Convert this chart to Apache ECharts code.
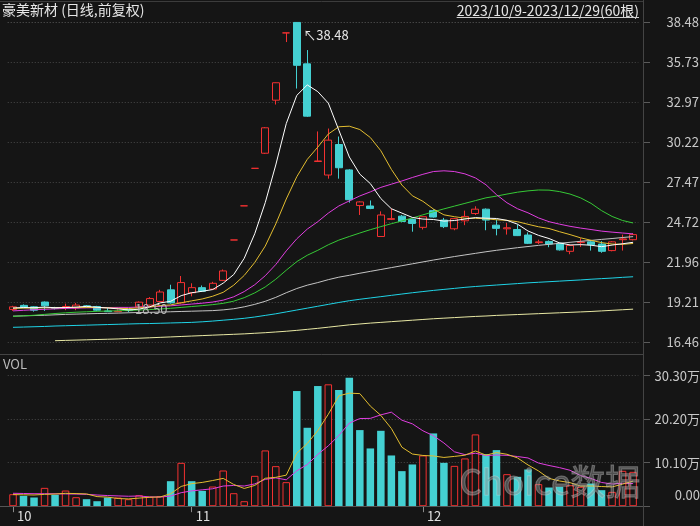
<!DOCTYPE html>
<html><head><meta charset="utf-8">
<script src="https://cdn.jsdelivr.net/npm/echarts/dist/echarts.min.js"></script>
<style>html,body{margin:0;padding:0;background:#151515;}#c{width:700px;height:526px;}</style>
</head><body><div id="c"></div>
<script>
const dates = [
'2023-10-09','2023-10-10','2023-10-11','2023-10-12','2023-10-13','2023-10-16','2023-10-17','2023-10-18','2023-10-19','2023-10-20',
'2023-10-23','2023-10-24','2023-10-25','2023-10-26','2023-10-27','2023-10-30','2023-10-31',
'2023-11-01','2023-11-02','2023-11-03','2023-11-06','2023-11-07','2023-11-08','2023-11-09','2023-11-10',
'2023-11-13','2023-11-14','2023-11-15','2023-11-16','2023-11-17','2023-11-20','2023-11-21','2023-11-22','2023-11-23','2023-11-24',
'2023-11-27','2023-11-28','2023-11-29','2023-11-30',
'2023-12-01','2023-12-04','2023-12-05','2023-12-06','2023-12-07','2023-12-08','2023-12-11','2023-12-12','2023-12-13','2023-12-14','2023-12-15',
'2023-12-18','2023-12-19','2023-12-20','2023-12-21','2023-12-22','2023-12-25','2023-12-26','2023-12-27','2023-12-28','2023-12-29'];

const opens  = [18.70,18.98,18.88,19.21,18.82,18.86,18.80,18.95,18.90,18.60,18.55,18.70,18.88,19.00,19.25,20.05,19.15,19.85,20.20,20.10,
                20.70,23.48,25.83,28.41,29.45,33.10,37.73,38.45,35.60,28.88,27.95,30.05,28.30,25.85,25.82,23.72,24.90,25.12,24.90,24.35,
                25.50,24.85,24.25,24.80,25.30,25.60,24.50,24.25,24.20,23.82,23.30,23.38,23.25,22.70,23.30,23.35,23.20,22.75,23.50,23.50];
const closes = [18.88,18.85,18.65,18.95,18.78,18.90,19.00,18.90,18.65,18.55,18.58,18.62,19.20,19.45,19.90,19.15,20.55,20.20,19.95,20.50,
                21.35,23.48,25.83,28.41,31.20,34.30,37.73,35.50,32.00,28.92,30.35,28.45,26.25,26.10,25.65,25.20,24.95,24.75,24.62,25.08,
                25.06,24.40,24.95,25.10,25.60,24.85,24.28,24.32,23.78,23.25,23.35,23.20,22.80,23.10,23.35,23.15,22.70,23.35,23.55,23.85];
const lows   = [18.60,18.78,18.55,18.60,18.70,18.65,18.65,18.80,18.60,18.53,18.52,18.50,18.85,18.95,19.20,19.10,19.10,19.60,19.90,20.05,
                20.65,23.48,25.83,28.41,29.40,32.80,37.10,33.90,31.95,28.85,27.70,27.70,26.05,25.20,25.60,23.70,24.85,24.70,24.05,24.20,
                25.02,24.30,24.15,24.50,25.20,24.15,23.80,23.85,23.75,23.20,23.20,22.98,22.75,22.50,23.00,22.75,22.60,22.70,22.75,23.45];
const highs  = [18.95,19.05,18.92,19.25,18.88,19.10,19.15,19.00,18.95,18.85,18.70,18.72,19.25,19.55,20.05,20.40,21.00,20.50,20.35,20.60,
                21.45,23.48,25.83,28.41,31.25,34.32,37.73,38.48,36.55,30.95,31.15,30.60,28.35,26.15,26.20,25.45,25.65,25.20,24.95,25.10,
                25.60,25.00,25.00,25.50,25.80,25.65,24.90,24.65,24.55,24.00,23.50,23.45,23.30,23.15,23.60,23.40,23.40,23.40,23.85,23.95];

const ma5   = [18.80,18.83,18.82,18.86,18.82,18.83,18.86,18.91,18.85,18.80,18.74,18.66,18.72,18.88,19.15,19.26,19.65,19.85,19.95,20.07,
               20.51,21.10,22.22,23.91,26.05,28.64,31.49,33.43,34.15,33.69,32.90,31.04,29.19,28.01,27.36,26.33,25.63,25.33,25.03,24.92,
               24.89,24.78,24.82,24.92,25.02,24.98,24.96,24.83,24.57,24.10,23.80,23.58,23.28,23.14,23.16,23.12,23.02,23.13,23.22,23.32];
const ma10  = [18.78,18.79,18.80,18.81,18.82,18.83,18.84,18.84,18.83,18.81,18.78,18.76,18.81,18.86,18.97,19.01,19.16,19.29,19.42,19.61,
               19.88,20.37,21.04,21.93,23.06,24.58,26.30,27.83,29.03,29.87,30.77,31.27,31.31,31.08,30.53,29.62,28.34,27.26,26.52,26.14,
               25.61,25.21,25.08,24.98,24.97,24.94,24.87,24.83,24.74,24.56,24.39,24.27,24.05,23.85,23.63,23.46,23.30,23.20,23.18,23.24];
const ma20  = [18.60,18.64,18.68,18.71,18.74,18.77,18.79,18.81,18.82,18.83,18.84,18.84,18.86,18.88,18.91,18.95,19.01,19.07,19.13,19.21,
               19.34,19.57,19.93,20.40,21.02,21.79,22.73,23.56,24.23,24.74,25.33,25.82,26.17,26.51,26.79,27.10,27.32,27.54,27.78,28.00,
               28.19,28.24,28.19,28.03,27.75,27.28,26.60,26.04,25.63,25.35,25.00,24.74,24.57,24.42,24.30,24.20,24.09,24.02,23.96,23.90];
const ma30  = [18.22,18.26,18.30,18.36,18.42,18.47,18.51,18.54,18.57,18.59,18.61,18.63,18.66,18.69,18.73,18.78,18.84,18.90,18.96,19.03,
               19.12,19.27,19.51,19.84,20.25,20.78,21.40,21.99,22.43,22.77,23.15,23.47,23.72,23.96,24.19,24.40,24.60,24.79,24.99,25.21,
               25.42,25.62,25.81,26.00,26.19,26.38,26.50,26.64,26.77,26.86,26.92,26.91,26.81,26.64,26.38,26.00,25.50,25.10,24.82,24.65];
const ma60  = [18.24,18.26,18.28,18.30,18.33,18.36,18.38,18.40,18.42,18.43,18.45,18.47,18.49,18.50,18.52,18.54,18.56,18.58,18.60,18.62,
               18.67,18.75,18.88,19.05,19.26,19.53,19.85,20.14,20.37,20.55,20.75,20.92,21.05,21.19,21.32,21.45,21.58,21.71,21.84,21.97,
               22.10,22.22,22.34,22.45,22.56,22.67,22.77,22.86,22.95,23.03,23.11,23.18,23.25,23.32,23.39,23.45,23.52,23.58,23.65,23.71];
const ma120 = [17.47,17.49,17.51,17.53,17.56,17.58,17.60,17.62,17.64,17.66,17.68,17.70,17.72,17.73,17.75,17.77,17.79,17.81,17.85,17.90,
               17.96,18.02,18.09,18.18,18.29,18.40,18.53,18.66,18.79,18.92,19.05,19.18,19.30,19.40,19.49,19.58,19.67,19.76,19.85,19.93,
               20.01,20.08,20.15,20.22,20.28,20.33,20.38,20.43,20.48,20.53,20.57,20.61,20.65,20.69,20.73,20.78,20.82,20.86,20.91,20.95];
const ma250 = [null,null,null,null,16.55,16.57,16.59,16.61,16.63,16.65,16.67,16.70,16.72,16.75,16.78,16.81,16.84,16.87,16.90,16.93,
               16.96,16.99,17.02,17.06,17.10,17.15,17.20,17.26,17.33,17.40,17.48,17.56,17.64,17.70,17.76,17.81,17.86,17.91,17.96,18.01,
               18.06,18.10,18.14,18.18,18.22,18.25,18.29,18.32,18.35,18.38,18.41,18.44,18.47,18.50,18.53,18.56,18.60,18.64,18.68,18.72];

// volume in 万
const volumes = [2.79,2.40,2.02,4.26,2.64,3.64,2.09,1.63,1.16,2.02,2.02,1.63,2.56,2.17,2.33,5.81,10.07,5.81,3.56,4.57,
                 8.29,3.02,1.16,7.05,12.95,9.30,5.58,26.74,18.21,27.90,28.30,26.98,29.84,17.67,13.41,17.51,11.78,8.14,9.69,11.78,
                 16.90,10.07,9.37,11.09,16.67,12.09,13.02,7.44,6.82,8.53,5.12,4.34,4.50,4.88,4.50,5.27,3.72,3.33,8.22,7.98];
const volMa5  = [2.70,2.65,2.60,2.75,2.82,2.99,2.93,2.85,2.23,2.11,1.78,1.69,1.88,2.08,2.14,2.90,4.59,5.24,5.52,5.96,
                 6.46,5.05,4.12,4.82,6.49,6.70,7.21,12.32,14.56,17.55,21.35,25.63,26.25,26.14,23.24,21.08,18.04,13.70,12.11,11.78,
                 11.66,11.32,11.56,11.84,12.82,11.86,12.45,12.06,11.21,9.58,8.19,6.45,5.86,5.47,4.67,4.70,4.57,4.47,5.13,5.83];
const volMa10 = [3.00,2.95,2.90,2.90,2.88,2.85,2.82,2.75,2.60,2.47,2.39,2.31,2.37,2.16,2.13,2.34,3.14,3.56,3.80,4.05,
                 4.68,4.82,4.68,5.17,6.23,6.58,6.13,8.22,9.69,12.02,14.02,16.42,19.29,20.35,20.39,21.21,21.83,19.97,19.12,17.51,
                 16.37,14.68,12.63,11.97,12.30,11.76,11.88,11.81,11.53,11.20,10.02,9.45,8.96,8.34,7.12,6.44,5.51,5.16,5.30,5.25];

const priceTicks = ['16.46','19.21','21.96','24.72','27.47','30.22','32.97','35.73','38.48'];
const volTicks = ['0.00','10.10万','20.20万','30.30万'];
const titleText = '豪美新材 (日线,前复权)';
const rangeText = '2023/10/9-2023/12/29(60根)';

const BG = '#151515', RED = '#f23131', CYAN = '#44d0d2';
const FONT = '"Noto Sans CJK SC","DejaVu Sans",sans-serif';

const pMin = Number(priceTicks[0]), pMax = Number(priceTicks[priceTicks.length - 1]);
const pInt = (pMax - pMin) / (priceTicks.length - 1);
const vMax = Number(volTicks[volTicks.length - 1].replace('万', ''));
const vInt = vMax / (volTicks.length - 1);

const monthStart = dates.map((d, i) => i === 0 || d.slice(5, 7) !== dates[i - 1].slice(5, 7));

const kData = dates.map((d, i) => [opens[i], closes[i], lows[i], highs[i]]);
const volData = volumes.map((v, i) => {
  const up = i === 0 ? true : closes[i] >= closes[i - 1];
  return { value: v, itemStyle: up ? { color: BG, borderColor: RED, borderWidth: 1 } : { color: CYAN, borderColor: CYAN, borderWidth: 0 } };
});

const cnv = document.createElement('canvas').getContext('2d');
cnv.font = '14px ' + FONT;
const rangeW = cnv.measureText(rangeText).width;

const GL = 7.75, GW = 630.6;
const chart = echarts.init(document.getElementById('c'), null, { renderer: 'canvas' });

function maLine(name, data, color, x, y) {
  return { name, type: 'line', data, xAxisIndex: x, yAxisIndex: y, symbol: 'none', showSymbol: false,
    silent: true, z: 3, connectNulls: false, lineStyle: { width: 1, color }, itemStyle: { color },
    emphasis: { disabled: true } };
}
const gridSplit = { show: true, lineStyle: { color: '#484848', type: [1, 2], width: 1 } };

chart.setOption({
  animation: false,
  backgroundColor: BG,
  textStyle: { fontFamily: FONT },
  grid: [
    { left: GL, width: GW, top: 22, height: 320, outerBoundsMode: 'none' },
    { left: GL, width: GW, top: 375.7, height: 130.5, outerBoundsMode: 'none' }
  ],
  xAxis: [
    { type: 'category', gridIndex: 0, data: dates, boundaryGap: true,
      axisLine: { show: false }, axisTick: { show: false }, axisLabel: { show: false }, splitLine: { show: false } },
    { type: 'category', gridIndex: 1, data: dates, boundaryGap: true,
      axisLine: { show: false },
      axisTick: { show: true, alignWithLabel: true, interval: (i) => monthStart[i], length: 6, lineStyle: { color: '#8a8a8a' } },
      axisLabel: { show: true, interval: (i) => monthStart[i], formatter: (v) => String(Number(v.slice(5, 7))),
        align: 'left', verticalAlign: 'top', padding: [0, 0, 0, 4], margin: 3, color: '#e0e0e0', fontSize: 13, fontFamily: FONT },
      splitLine: { show: false } }
  ],
  yAxis: [
    { type: 'value', gridIndex: 0, position: 'right', offset: 4.65, min: pMin, max: pMax, interval: pInt, scale: true,
      axisLine: { show: false }, axisTick: { show: true, length: 7, lineStyle: { color: '#5a5a5a' } },
      axisLabel: { formatter: (v) => priceTicks[Math.round((v - pMin) / pInt)], align: 'right', margin: 56,
        color: '#c8c8c8', fontSize: 13, fontFamily: FONT },
      splitLine: gridSplit },
    { type: 'value', gridIndex: 1, position: 'right', offset: 4.65, min: 0, max: vMax, interval: vInt,
      axisLine: { show: false }, axisTick: { show: true, length: 7, lineStyle: { color: '#5a5a5a' } },
      axisLabel: { formatter: (v) => { const k = Math.round(v / vInt); return k === 0 ? '{z|' + volTicks[0] + '}' : volTicks[k]; },
        align: 'right', margin: 57, color: '#c8c8c8', fontSize: 13, fontFamily: FONT,
        rich: { z: { color: '#c8c8c8', fontSize: 13, fontFamily: FONT, padding: [0, 0, 22, 0] } } },
      splitLine: gridSplit }
  ],
  series: [
    { name: 'K', type: 'candlestick', xAxisIndex: 0, yAxisIndex: 0, data: kData, barWidth: 7.5, z: 2, silent: true,
      itemStyle: { color: BG, color0: CYAN, borderColor: RED, borderColor0: CYAN, borderColorDoji: RED, borderWidth: 1 },
      markPoint: { symbol: 'circle', symbolSize: 1, silent: true, itemStyle: { color: 'rgba(0,0,0,0)' },
        data: [
          { type: 'max', valueDim: 'highest', label: { show: true, position: 'right', distance: 0, offset: [6, 13],
              formatter: (p) => '↖' + Number(p.value).toFixed(2), color: '#e6e6e6', fontSize: 13, fontFamily: FONT } },
          { type: 'min', valueDim: 'lowest', label: { show: true, position: 'right', distance: 0, offset: [6, -3],
              formatter: (p) => Number(p.value).toFixed(2), color: '#b8b8b8', fontSize: 13, fontFamily: FONT } }
        ] } },
    maLine('MA250', ma250, '#e8e8a4', 0, 0),
    maLine('MA120', ma120, '#1fd3e6', 0, 0),
    maLine('MA60', ma60, '#c4c4c4', 0, 0),
    maLine('MA30', ma30, '#36c936', 0, 0),
    maLine('MA20', ma20, '#e03ee0', 0, 0),
    maLine('MA10', ma10, '#e3bd30', 0, 0),
    maLine('MA5', ma5, '#ffffff', 0, 0),
    { name: 'VOL', type: 'bar', xAxisIndex: 1, yAxisIndex: 1, data: volData, barWidth: 7.5, z: 2, silent: true },
    maLine('VMA10', volMa10, '#e03ee0', 1, 1),
    maLine('VMA5', volMa5, '#e3bd30', 1, 1)
  ],
  graphic: [
    { type: 'line', silent: true, z: 50, shape: { x1: 0, y1: 1.5, x2: 643, y2: 1.5 }, style: { stroke: '#3c3c3c', lineWidth: 1 } },
    { type: 'line', silent: true, z: 50, shape: { x1: 0, y1: 354.5, x2: 643, y2: 354.5 }, style: { stroke: '#444444', lineWidth: 1 } },
    { type: 'line', silent: true, z: 50, shape: { x1: 0, y1: 506.5, x2: 643, y2: 506.5 }, style: { stroke: '#555555', lineWidth: 1 } },
    { type: 'line', silent: true, z: 50, shape: { x1: 643.5, y1: 0, x2: 643.5, y2: 526 }, style: { stroke: '#444444', lineWidth: 1 } },
    { type: 'text', silent: true, z: 60, left: 2, top: 3, style: { text: titleText, fill: '#e6e6e6', font: '14px ' + FONT } },
    { type: 'text', silent: true, z: 60, x: 639, y: 4, style: { text: rangeText, fill: '#e6e6e6', font: '14px ' + FONT, textAlign: 'right', textVerticalAlign: 'top' } },
    { type: 'line', silent: true, z: 60, shape: { x1: 639 - rangeW, y1: 17.5, x2: 639, y2: 17.5 }, style: { stroke: '#d0d0d0', lineWidth: 1 } },
    { type: 'text', silent: true, z: 60, left: 3, top: 358, style: { text: 'VOL', fill: '#bdbdbd', font: '13px ' + FONT } },
    { type: 'text', silent: true, z: 100, left: 459, top: 464, style: { text: 'Choice数据', fill: 'rgba(150,150,150,0.45)',
        stroke: 'rgba(235,235,235,0.35)', lineWidth: 1, font: '35px ' + FONT } }
  ]
});
</script>
</body></html>
